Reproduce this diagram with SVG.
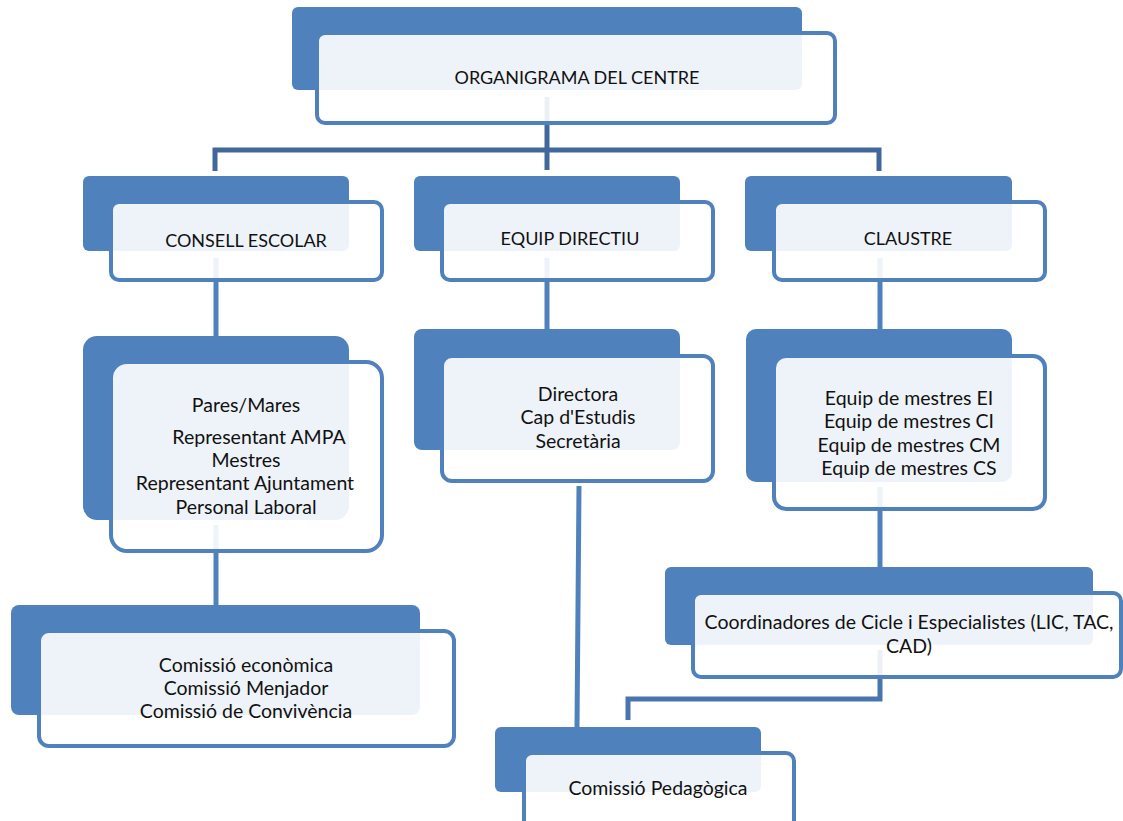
<svg xmlns="http://www.w3.org/2000/svg" width="1123" height="821" viewBox="0 0 1123 821">
<style>
.back{fill:#4F81BD}
.front{fill:#FFFFFF;fill-opacity:0.9;stroke:#4F81BD;stroke-width:4}
.t{font-family:Lato,"Liberation Sans",sans-serif;font-size:19.5px;fill:#111;text-anchor:middle}
.h{font-size:18px}
.c1{stroke:#41689B;stroke-width:5;fill:none}
.c2{stroke:#4F81BD;stroke-width:5;fill:none}
.c3{stroke:#4875AE;stroke-width:5;fill:none}
</style>
<rect width="1123" height="821" fill="#FFFFFF"/>
<g id="connectors">
<path class="c1" d="M547 97V170M215 171V150H879V171"/>
<path class="c2" d="M216 258V336M547 258V329M880 258V329M216 525V605M880 487V567M579 486L577 727"/>
<path class="c3" d="M880 650V699H628V720"/>
</g>
<g id="n-top">
<rect class="back" x="292" y="7" width="510" height="83" rx="6"/>
<rect class="front" x="317" y="33" width="518" height="90" rx="8"/>
<text class="t h" x="577" y="84">ORGANIGRAMA DEL CENTRE</text>
</g>
<g id="n-consell">
<rect class="back" x="83" y="176" width="266" height="75" rx="6"/>
<rect class="front" x="111" y="202" width="271" height="78" rx="8"/>
<text class="t h" x="246" y="247">CONSELL ESCOLAR</text>
</g>
<g id="n-equip">
<rect class="back" x="414" y="176" width="266" height="75" rx="6"/>
<rect class="front" x="442" y="202" width="271" height="78" rx="8"/>
<text class="t h" x="570" y="245">EQUIP DIRECTIU</text>
</g>
<g id="n-claustre">
<rect class="back" x="745" y="176" width="267" height="75" rx="6"/>
<rect class="front" x="774" y="202" width="271" height="78" rx="8"/>
<text class="t h" x="908" y="245">CLAUSTRE</text>
</g>
<g id="n-pares">
<rect class="back" x="83" y="336" width="266" height="184" rx="14"/>
<rect class="front" x="111" y="362" width="271" height="189" rx="16"/>
<text class="t" x="246" y="412">Pares/Mares</text>
<text class="t" x="259" y="444">Representant AMPA</text>
<text class="t" x="246" y="467">Mestres</text>
<text class="t" x="245" y="490">Representant Ajuntament</text>
<text class="t" x="246" y="514">Personal Laboral</text>
</g>
<g id="n-directora">
<rect class="back" x="414" y="329" width="266" height="121" rx="8"/>
<rect class="front" x="442" y="356" width="271" height="125" rx="10"/>
<text class="t" x="578" y="401">Directora</text>
<text class="t" x="578" y="424">Cap d'Estudis</text>
<text class="t" x="578" y="448">Secretària</text>
</g>
<g id="n-mestres">
<rect class="back" x="746" y="329" width="266" height="153" rx="10"/>
<rect class="front" x="774" y="356" width="271" height="153" rx="12"/>
<text class="t" x="909" y="405">Equip de mestres EI</text>
<text class="t" x="909" y="428">Equip de mestres CI</text>
<text class="t" x="909" y="452">Equip de mestres CM</text>
<text class="t" x="909" y="475">Equip de mestres CS</text>
</g>
<g id="n-coord">
<rect class="back" x="665" y="567" width="428" height="78" rx="6"/>
<rect class="front" x="693" y="593" width="428" height="84" rx="8"/>
<text class="t" x="909" y="629">Coordinadores de Cicle i Especialistes (LIC, TAC,</text>
<text class="t" x="909" y="653">CAD)</text>
</g>
<g id="n-comissio">
<rect class="back" x="11" y="605" width="409" height="110" rx="8"/>
<rect class="front" x="39" y="631" width="415" height="115" rx="10"/>
<text class="t" x="246" y="672">Comissió econòmica</text>
<text class="t" x="246" y="695">Comissió Menjador</text>
<text class="t" x="246" y="718">Comissió de Convivència</text>
</g>
<g id="n-pedagogica">
<rect class="back" x="495" y="727" width="266" height="65" rx="6"/>
<rect class="front" x="524" y="753" width="270" height="90" rx="8"/>
<text class="t" x="658" y="795">Comissió Pedagògica</text>
</g>
</svg>
